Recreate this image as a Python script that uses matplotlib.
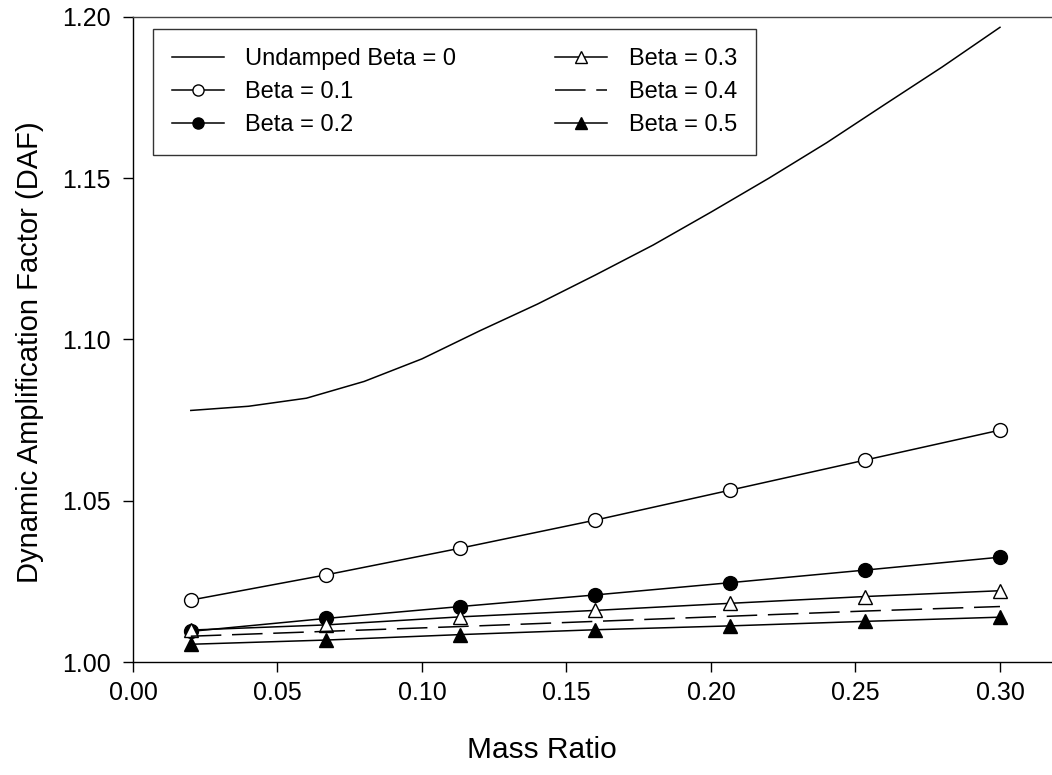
"""
    DAF vs mass ratio chart
"""
import matplotlib
matplotlib.use("Agg")
import matplotlib.pyplot as plt
from matplotlib.ticker import FormatStrFormatter

plt.rcParams["font.family"] = ["Liberation Sans", "DejaVu Sans"]

### data
mass_ratio = [0.02, 0.0667, 0.1133, 0.16, 0.2067, 0.2533, 0.30]

undamped_x = [0.02, 0.04, 0.06, 0.08, 0.10, 0.12, 0.14, 0.16,
              0.18, 0.20, 0.22, 0.24, 0.26, 0.28, 0.30]
undamped_y = [1.0780, 1.0793, 1.0818, 1.0870, 1.0940, 1.1027, 1.1110, 1.1200,
              1.1293, 1.1395, 1.1500, 1.1610, 1.1728, 1.1845, 1.1968]

beta_01 = [1.0192, 1.0270, 1.0353, 1.0440, 1.0533, 1.0626, 1.0719]
beta_02 = [1.0095, 1.0135, 1.0172, 1.0208, 1.0246, 1.0285, 1.0325]
beta_03 = [1.0099, 1.0115, 1.0140, 1.0160, 1.0182, 1.0203, 1.0221]
beta_04 = [1.0080, 1.0095, 1.0110, 1.0126, 1.0142, 1.0158, 1.0172]
beta_05 = [1.0055, 1.0068, 1.0085, 1.0100, 1.0112, 1.0126, 1.0139]

x_ticks = [0.00, 0.05, 0.10, 0.15, 0.20, 0.25, 0.30]
y_ticks = [1.00, 1.05, 1.10, 1.15, 1.20]


fig = plt.figure(figsize=(10.52, 7.75), dpi=100)
ax = fig.add_axes([133 / 1052, 113 / 775, 919 / 1052, 645 / 775])

lw = 1.1
ax.plot(undamped_x, undamped_y, color="black", lw=lw, label="Undamped Beta = 0")
ax.plot(mass_ratio, beta_01, color="black", lw=lw, marker="o", ms=10,
        mfc="white", mec="black", mew=1, label="Beta = 0.1")
ax.plot(mass_ratio, beta_02, color="black", lw=lw, marker="o", ms=10,
        mfc="black", mec="black", label="Beta = 0.2")
ax.plot(mass_ratio, beta_03, color="black", lw=lw, marker="^", ms=10,
        mfc="white", mec="black", mew=1, label="Beta = 0.3")
ax.plot(mass_ratio, beta_04, color="black", lw=lw, dashes=(20, 7), label="Beta = 0.4")
ax.plot(mass_ratio, beta_05, color="black", lw=lw, marker="^", ms=10,
        mfc="black", mec="black", label="Beta = 0.5")

ax.set_xlim(0, 0.318)
ax.set_ylim(1.0, 1.2)
ax.set_xticks(x_ticks)
ax.set_yticks(y_ticks)
ax.xaxis.set_major_formatter(FormatStrFormatter("%.2f"))
ax.yaxis.set_major_formatter(FormatStrFormatter("%.2f"))
ax.tick_params(direction="out", length=7, width=1, labelsize=18, pad=7)
ax.tick_params(axis="y", pad=9)

ax.spines["right"].set_visible(False)
ax.spines["top"].set_color("#444444")
for s in ["left", "bottom", "top"]:
    ax.spines[s].set_linewidth(1)

ax.set_xlabel("Mass Ratio", fontsize=21.5)
ax.set_ylabel("Dynamic Amplification Factor (DAF)", fontsize=21)
ax.xaxis.set_label_coords(0.445, -0.115)
ax.yaxis.set_label_coords(-0.097, 0.48)

leg = ax.legend(ncol=2, loc="upper left", bbox_to_anchor=(0.022, 0.981),
                fontsize=17, frameon=True, fancybox=False, edgecolor="black",
                handlelength=2.2, handletextpad=0.9, columnspacing=4.2,
                labelspacing=0.47, borderpad=0.8, borderaxespad=0,
                markerscale=0.8)
leg.get_frame().set_linewidth(1)

fig.savefig("out.png", dpi=100)
